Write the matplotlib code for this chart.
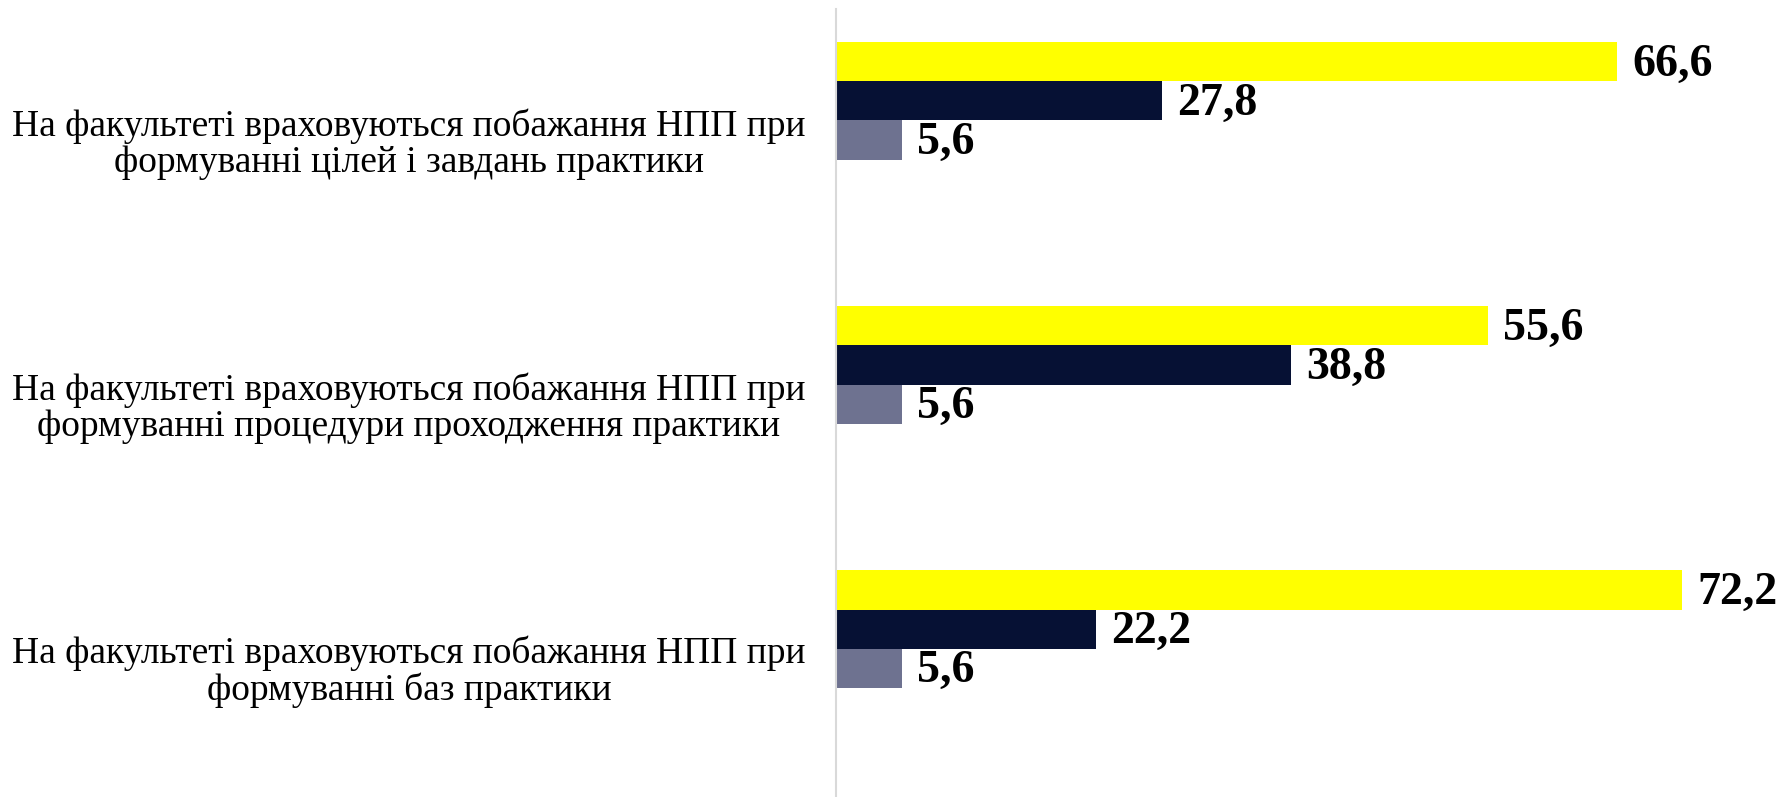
import matplotlib
matplotlib.use("Agg")
from matplotlib import pyplot as plt
from matplotlib import transforms

categories = [
    "На факультеті враховуються побажання НПП при\nформуванні цілей і завдань практики",
    "На факультеті враховуються побажання НПП при\nформуванні процедури проходження практики",
    "На факультеті враховуються побажання НПП при\nформуванні баз практики",
]
yellowValues = [66.6, 55.6, 72.2]
navyValues = [27.8, 38.8, 22.2]
greyValues = [5.6, 5.6, 5.6]

colors = ["#FFFF00", "#061134", "#6E7290"]

fig = plt.figure(figsize=(17.89, 7.97), dpi=100)
ax = fig.add_axes([836 / 1789, 0, 1 - 836 / 1789, 1 - 9 / 797])

barHeight = 0.148
series = [yellowValues, navyValues, greyValues]
offsets = [-barHeight, 0, barHeight]
for values, off, col in zip(series, offsets, colors):
    ys = [i + off for i in range(len(categories))]
    ax.barh(ys, values, height=barHeight, color=col, linewidth=0)
    for y, v in zip(ys, values):
        ax.annotate(str(v).replace(".", ","), (v, y), xytext=(11, -2),
                    textcoords="offset points", va="center", ha="left",
                    fontsize=33, fontweight="bold", family="Liberation Serif")

# category labels, centred in the left area
trans = transforms.blended_transform_factory(fig.transFigure, ax.transData)
for i, cat in enumerate(categories):
    ax.text(409 / 1789, i + 0.163, cat, transform=trans, ha="center", va="center",
            multialignment="center", fontsize=27, family="Liberation Serif",
            linespacing=1.05)

ax.set_xlim(0, 81.3)
ax.set_ylim(2.636, -0.348)
ax.set_xticks([])
ax.set_yticks([])
for s in ["top", "right", "bottom"]:
    ax.spines[s].set_visible(False)
ax.spines["left"].set_color("#D9D9D9")
ax.spines["left"].set_linewidth(1.5)

fig.savefig("out.png", dpi=100)
